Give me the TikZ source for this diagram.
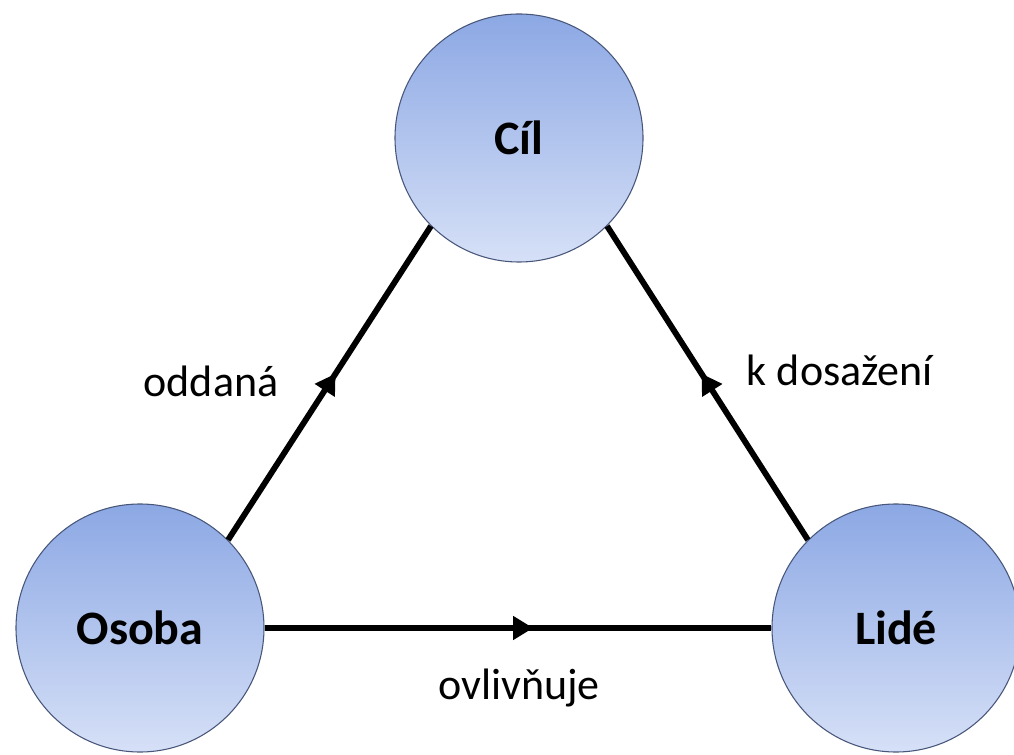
\documentclass[tikz,border=0pt]{standalone}
\usepackage{fontspec}
\setmainfont{Carlito}
\usetikzlibrary{arrows.meta, positioning, decorations.markings}

\definecolor{ballTop}{RGB}{140,168,228}
\definecolor{ballBottom}{RGB}{214,224,247}
\definecolor{ballEdge}{RGB}{72,86,122}

\tikzset{
  ball/.style={circle, draw=ballEdge, line width=0.8pt,
               top color=ballTop, bottom color=ballBottom,
               minimum size=186pt, inner sep=0pt,
               font=\fontsize{36}{40}\selectfont\bfseries},
  link/.style={line width=4.4pt,
               postaction={decorate, decoration={markings,
                 mark=at position 0.53 with {\arrow{Triangle[length=15pt,width=17pt]}}}}},
  tag/.style={font=\fontsize{33}{36}\selectfont}
}

\begin{document}
\begin{tikzpicture}[x=0.75pt, y=-0.75pt]
  \useasboundingbox (0,0) rectangle (1014,755);

  % Circles
  \node[ball] (cil)   at (519,138) {Cíl};
  \node[ball] (osoba) at (140,628) {Osoba};
  \node[ball] (lide)  at (896,628) {Lidé};

  % Links
  \draw[link] (osoba.north east) -- (cil.south west);
  \draw[link] (lide.north west) -- (cil.south east);
  \draw[link] (osoba.east) -- (lide.west);

  % Labels
  \node[tag] (oddana)   at (211,381) {oddaná};
  \node[tag] (dosazeni) at (840,370) {k dosažení};
  \node[tag] (ovlivnuje) at (519,688) {ovlivňuje};
\end{tikzpicture}
\end{document}
